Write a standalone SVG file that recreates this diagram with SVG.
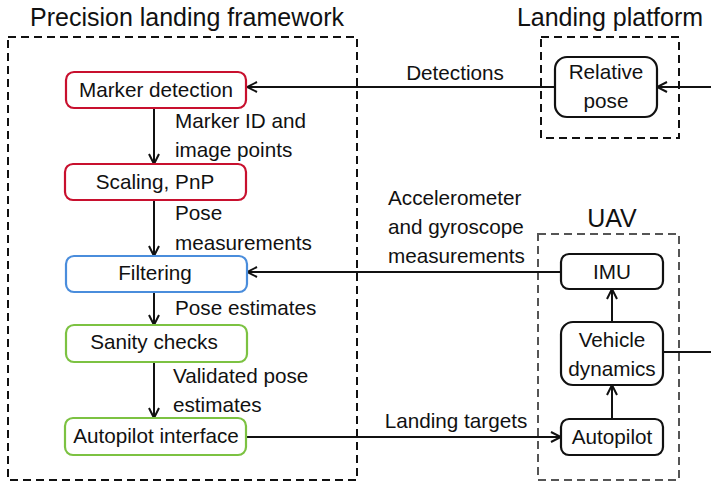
<svg xmlns="http://www.w3.org/2000/svg" width="711" height="483" viewBox="0 0 711 483">
  <style>
    text { font-family: "Liberation Sans", Arial, sans-serif; fill: #111; }
    .title { font-size: 25px; }
    .lbl { font-size: 20.7px; }
    .mid { text-anchor: middle; }
    .box { fill: #fff; stroke-width: 2.2; }
    .red { stroke: #c8102e; }
    .blue { stroke: #4a8ddc; }
    .green { stroke: #7cc242; }
    .blk { stroke: #111; }
    .frame { fill: none; stroke: #111; stroke-width: 2; stroke-dasharray: 8 5; }
    .frame-gray { fill: none; stroke: #555; stroke-width: 2; stroke-dasharray: 8 5; }
    .wire { fill: none; stroke: #111; stroke-width: 2; }
  </style>
  <defs>
    <marker id="arrow" markerUnits="userSpaceOnUse" markerWidth="14" markerHeight="14" viewBox="-12 -7 14 14" refX="0" refY="0" orient="auto">
      <path d="M-10,-5 L0,0 L-10,5" fill="none" stroke="#111" stroke-width="2"/>
    </marker>
  </defs>

  <!-- Framework frame -->
  <g id="framework">
    <rect class="frame" x="8" y="37" width="349" height="443"/>
    <text class="title mid" x="187" y="26">Precision landing framework</text>
  </g>

  <!-- Landing platform frame -->
  <g id="platform">
    <rect class="frame" x="541" y="37" width="138" height="101"/>
    <text class="title mid" x="610" y="26">Landing platform</text>
  </g>

  <!-- UAV frame -->
  <g id="uav">
    <rect class="frame-gray" x="538" y="234" width="141" height="246"/>
    <text class="title mid" x="612" y="227">UAV</text>
  </g>

  <g id="connectors">
    <line class="wire" x1="154" y1="108" x2="154" y2="164" marker-end="url(#arrow)"/>
    <line class="wire" x1="154" y1="200" x2="154" y2="256" marker-end="url(#arrow)"/>
    <line class="wire" x1="154" y1="292" x2="154" y2="325" marker-end="url(#arrow)"/>
    <line class="wire" x1="154" y1="362" x2="154" y2="418" marker-end="url(#arrow)"/>
    <line class="wire" x1="555" y1="87" x2="247" y2="87" marker-end="url(#arrow)"/>
    <line class="wire" x1="711" y1="87" x2="657" y2="87" marker-end="url(#arrow)"/>
    <line class="wire" x1="561" y1="272" x2="247" y2="272" marker-end="url(#arrow)"/>
    <line class="wire" x1="246" y1="437" x2="561" y2="437" marker-end="url(#arrow)"/>
    <line class="wire" x1="612" y1="322" x2="612" y2="289" marker-end="url(#arrow)"/>
    <line class="wire" x1="612" y1="419" x2="612" y2="385" marker-end="url(#arrow)"/>
    <line class="wire" x1="663" y1="352" x2="711" y2="352"/>

    <text class="lbl" x="175" y="128">Marker ID and</text>
    <text class="lbl" x="175" y="157">image points</text>
    <text class="lbl" x="175" y="220">Pose</text>
    <text class="lbl" x="175" y="250">measurements</text>
    <text class="lbl" x="175" y="315">Pose estimates</text>
    <text class="lbl" x="173" y="383">Validated pose</text>
    <text class="lbl" x="173" y="412">estimates</text>
    <text class="lbl mid" x="455" y="80">Detections</text>
    <text class="lbl" x="388" y="205">Accelerometer</text>
    <text class="lbl" x="388" y="234">and gyroscope</text>
    <text class="lbl" x="388" y="263">measurements</text>
    <text class="lbl mid" x="456" y="428">Landing targets</text>
  </g>

  <g id="marker-detection">
    <rect class="box red" x="66" y="72" width="180" height="36" rx="8"/>
    <text class="lbl mid" x="156" y="97">Marker detection</text>
  </g>
  <g id="scaling-pnp">
    <rect class="box red" x="65" y="164" width="181" height="36" rx="8"/>
    <text class="lbl mid" x="155" y="189">Scaling, PnP</text>
  </g>
  <g id="filtering">
    <rect class="box blue" x="66" y="256" width="181" height="36" rx="8"/>
    <text class="lbl mid" x="155" y="280">Filtering</text>
  </g>
  <g id="sanity-checks">
    <rect class="box green" x="66" y="325" width="181" height="37" rx="8"/>
    <text class="lbl mid" x="154" y="349">Sanity checks</text>
  </g>
  <g id="autopilot-interface">
    <rect class="box green" x="65" y="418" width="181" height="37" rx="8"/>
    <text class="lbl mid" x="156" y="443">Autopilot interface</text>
  </g>
  <g id="relative-pose">
    <rect class="box blk" x="555" y="57" width="102" height="60" rx="12"/>
    <text class="lbl mid" x="606" y="79">Relative</text>
    <text class="lbl mid" x="606" y="108">pose</text>
  </g>
  <g id="imu">
    <rect class="box blk" x="561" y="254" width="102" height="35" rx="8"/>
    <text class="lbl mid" x="612" y="279">IMU</text>
  </g>
  <g id="vehicle-dynamics">
    <rect class="box blk" x="561" y="322" width="102" height="63" rx="12"/>
    <text class="lbl mid" x="612" y="347">Vehicle</text>
    <text class="lbl mid" x="612" y="376">dynamics</text>
  </g>
  <g id="autopilot">
    <rect class="box blk" x="561" y="419" width="102" height="36" rx="8"/>
    <text class="lbl mid" x="612" y="444">Autopilot</text>
  </g>
</svg>
